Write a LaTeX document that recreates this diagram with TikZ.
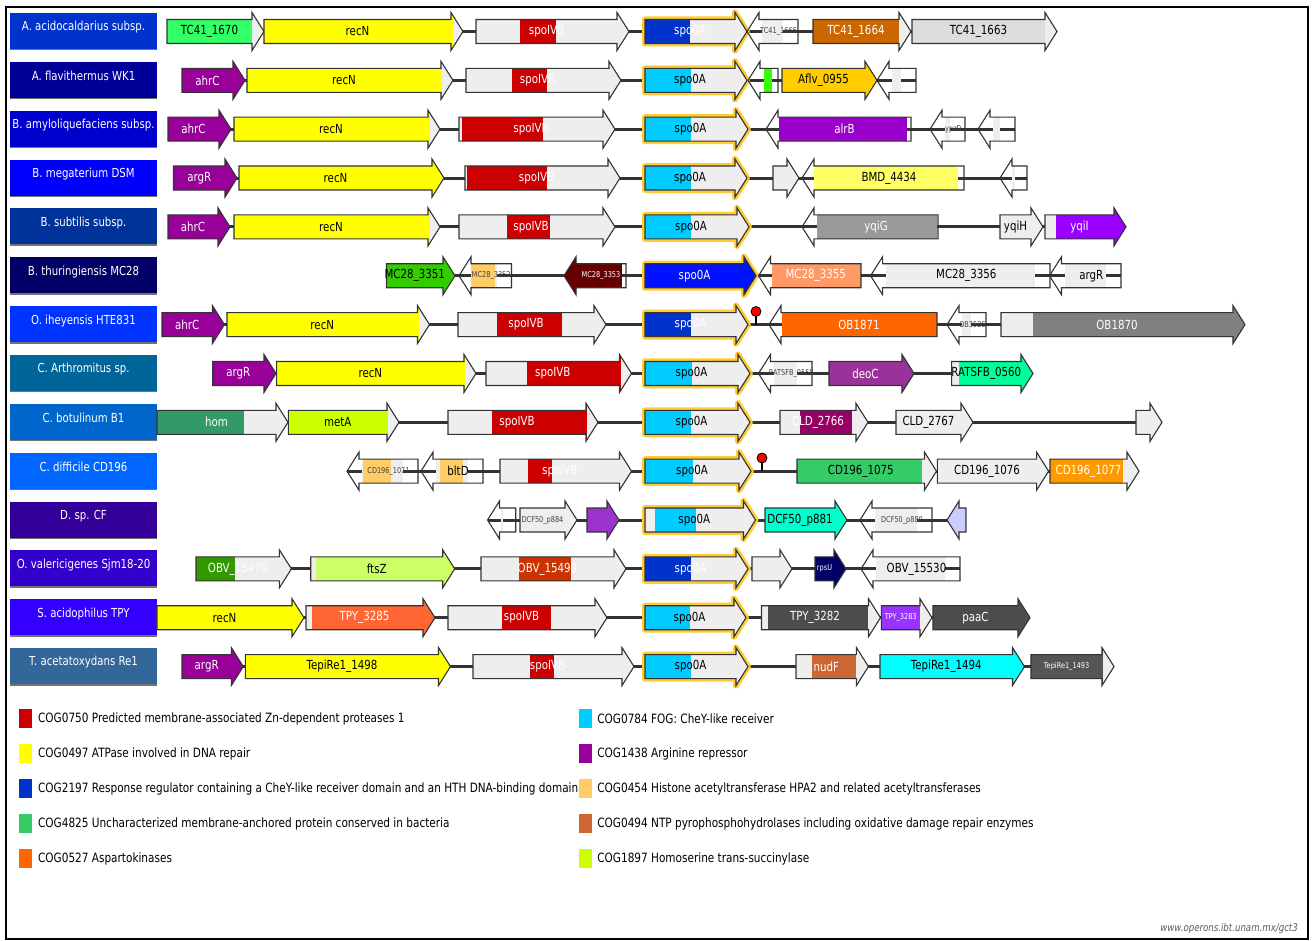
\documentclass[tikz,border=0pt]{standalone}
\usepackage{fontspec}
\setmainfont{DejaVu Sans}[FakeStretch=0.82]
\usetikzlibrary{positioning}
% COG colours (legend)
\definecolor{cogred}{HTML}{CC0000}
\definecolor{cogyellow}{HTML}{FFFF00}
\definecolor{cogblue}{HTML}{0033CC}
\definecolor{coggreen}{HTML}{33CC66}
\definecolor{cogorange}{HTML}{FF6600}
\definecolor{cogcyan}{HTML}{00CCFF}
\definecolor{cogpurple}{HTML}{990099}
\definecolor{coglightor}{HTML}{FFCC66}
\definecolor{cogbrown}{HTML}{CC6633}
\definecolor{coglime}{HTML}{CCFF00}
% other genes
\definecolor{genebase}{HTML}{EEEEEE}
\definecolor{glowyel}{HTML}{FFCC33}
\definecolor{tcgreen}{HTML}{33FF66}
\definecolor{tcbrown}{HTML}{CC6600}
\definecolor{tcgray}{HTML}{DDDDDD}
\definecolor{aflgreen}{HTML}{33FF00}
\definecolor{aflorange}{HTML}{FFCC00}
\definecolor{alrpurple}{HTML}{9900CC}
\definecolor{bmdyellow}{HTML}{FFFF66}
\definecolor{yqigray}{HTML}{999999}
\definecolor{yqipurple}{HTML}{9900FF}
\definecolor{mcgreen}{HTML}{33CC00}
\definecolor{mcdarkred}{HTML}{660000}
\definecolor{spoblue}{HTML}{0011FF}
\definecolor{mcsalmon}{HTML}{FF9966}
\definecolor{obgray}{HTML}{808080}
\definecolor{deopurple}{HTML}{993399}
\definecolor{ratgreen}{HTML}{00FF99}
\definecolor{homgreen}{HTML}{339966}
\definecolor{cldmag}{HTML}{990066}
\definecolor{cdorange}{HTML}{FF9900}
\definecolor{dcfpurple}{HTML}{9933CC}
\definecolor{dcfteal}{HTML}{00FFCC}
\definecolor{lavender}{HTML}{CCCCFF}
\definecolor{obvgreen}{HTML}{339900}
\definecolor{ftsgreen}{HTML}{CCFF66}
\definecolor{obvred}{HTML}{CC3300}
\definecolor{rpsnavy}{HTML}{000066}
\definecolor{tpyorange}{HTML}{FF6633}
\definecolor{tpydark}{HTML}{4D4D4D}
\definecolor{tpypurple}{HTML}{9933FF}
\definecolor{tepicyan}{HTML}{00FFFF}
\definecolor{tepidark}{HTML}{555555}
% species boxes
\definecolor{spa}{HTML}{0033CC}
\definecolor{spb}{HTML}{000099}
\definecolor{spc}{HTML}{0000CC}
\definecolor{spd}{HTML}{0000FF}
\definecolor{spe}{HTML}{003399}
\definecolor{spf}{HTML}{000066}
\definecolor{spg}{HTML}{0033FF}
\definecolor{sph}{HTML}{006699}
\definecolor{spi}{HTML}{0066CC}
\definecolor{spj}{HTML}{0066FF}
\definecolor{spk}{HTML}{330099}
\definecolor{spl}{HTML}{3300CC}
\definecolor{spm}{HTML}{3300FF}
\definecolor{spn}{HTML}{336699}
\newcounter{gn}
% \gene[extra]{y}{tail x}{tip x}{domain from}{domain to}{domain colour}{label}{label style}
\newcommand{\gene}[9][]{%
  \pgfmathsetmacro{\hb}{#4-12*sign(#4-#3)}%
  \path[#1] (#3,#2-12) -- (\hb,#2-12) -- (\hb,#2-19) -- (#4,#2) -- (\hb,#2+19) -- (\hb,#2+12) -- (#3,#2+12) -- cycle;
  \begin{scope}
    \clip (#3,#2-12) -- (\hb,#2-12) -- (\hb,#2-19) -- (#4,#2) -- (\hb,#2+19) -- (\hb,#2+12) -- (#3,#2+12) -- cycle;
    \fill[genebase] (#3-15,#2-20) rectangle (#4+15,#2+20);
    \fill[#7] (#5,#2-20) rectangle (#6,#2+20);
  \end{scope}
  \draw[geneline] (#3,#2-12) -- (\hb,#2-12) -- (\hb,#2-19) -- (#4,#2) -- (\hb,#2+19) -- (\hb,#2+12) -- (#3,#2+12) -- cycle;
  \stepcounter{gn}%
  \node[#9] (g\arabic{gn}) at ({(#3+\hb)/2},#2) {#8};%
}

\begin{document}
\begin{tikzpicture}[x=1pt, y=-1pt]
\tikzset{
    backbone/.style={line width=3pt, draw=black!80},
    geneline/.style={draw=black!80, line width=1.1pt},
    glow/.style={draw=glowyel, line width=6pt, line join=round},
    lblk/.style={font=\fontsize{12.5}{12.5}\selectfont, text=black, inner sep=0pt},
    lwht/.style={font=\fontsize{12.5}{12.5}\selectfont, text=white, inner sep=0pt},
    lsml/.style={font=\fontsize{8}{8}\selectfont, text=black!75, inner sep=0pt},
    lsmw/.style={font=\fontsize{8}{8}\selectfont, text=white, inner sep=0pt},
    spbox/.style={minimum width=147pt, minimum height=37pt, inner sep=0pt,
        path picture={\draw[black!55, line width=2pt] (path picture bounding box.south west) -- (path picture bounding box.south east);}},
    sptext/.style={font=\fontsize{12.4}{12.4}\selectfont, text=white, inner sep=0pt},
    legsq/.style={minimum width=13pt, minimum height=19pt, inner sep=0pt},
    legtxt/.style={font=\fontsize{12.8}{12.8}\selectfont, inner sep=0pt, anchor=west},
    termhead/.style={fill=red, draw=black, line width=0.8pt}
}
\useasboundingbox (0,0) rectangle (1314,941);
\draw[line width=2pt] (6,7) rectangle (1308,939);

% species labels
\node[spbox, fill=spa] (sp1) at (83.5,31.5) {};
\node[sptext] (sp1t) at (83.5,27.5) {A. acidocaldarius subsp.};
\node[spbox, fill=spb] (sp2) at (83.5,80.35) {};
\node[sptext] (sp2t) at (83.5,76.35) {A. flavithermus WK1};
\node[spbox, fill=spc] (sp3) at (83.5,129.2) {};
\node[sptext] (sp3t) at (83.5,125.2) {B. amyloliquefaciens subsp.};
\node[spbox, fill=spd] (sp4) at (83.5,178.05) {};
\node[sptext] (sp4t) at (83.5,174.05) {B. megaterium DSM};
\node[spbox, fill=spe] (sp5) at (83.5,226.9) {};
\node[sptext] (sp5t) at (83.5,222.9) {B. subtilis subsp.};
\node[spbox, fill=spf] (sp6) at (83.5,275.75) {};
\node[sptext] (sp6t) at (83.5,271.75) {B. thuringiensis MC28};
\node[spbox, fill=spg] (sp7) at (83.5,324.6) {};
\node[sptext] (sp7t) at (83.5,320.6) {O. iheyensis HTE831};
\node[spbox, fill=sph] (sp8) at (83.5,373.45) {};
\node[sptext] (sp8t) at (83.5,369.45) {C. Arthromitus sp.};
\node[spbox, fill=spi] (sp9) at (83.5,422.3) {};
\node[sptext] (sp9t) at (83.5,418.3) {C. botulinum B1};
\node[spbox, fill=spj] (sp10) at (83.5,471.15) {};
\node[sptext] (sp10t) at (83.5,467.15) {C. difficile CD196};
\node[spbox, fill=spk] (sp11) at (83.5,520) {};
\node[sptext] (sp11t) at (83.5,516) {D. sp. CF};
\node[spbox, fill=spl] (sp12) at (83.5,568.85) {};
\node[sptext] (sp12t) at (83.5,564.85) {O. valericigenes Sjm18-20};
\node[spbox, fill=spm] (sp13) at (83.5,617.7) {};
\node[sptext] (sp13t) at (83.5,613.7) {S. acidophilus TPY};
\node[spbox, fill=spn] (sp14) at (83.5,666.55) {};
\node[sptext] (sp14t) at (83.5,662.55) {T. acetatoxydans Re1};

% A. acidocaldarius
\coordinate (r1s) at (167,31.5); \coordinate (r1e) at (1057,31.5);
\draw[backbone] (r1s) -- (r1e);
\gene{31.5}{167}{264}{167}{252}{tcgreen}{TC41\_1670}{lblk}
\gene{31.5}{264}{463}{264}{453}{cogyellow}{recN}{lblk}
\gene{31.5}{476}{629}{520}{556}{cogred}{spoIVB}{lwht}
\gene[glow]{31.5}{645}{747}{645}{690}{cogblue}{spo0A}{lwht}
\gene{31.5}{798}{747}{0}{0}{genebase}{TC41\_1666}{lsml}
\gene{31.5}{813}{911}{813}{899}{tcbrown}{TC41\_1664}{lwht}
\gene{31.5}{912}{1057}{912}{1045}{tcgray}{TC41\_1663}{lblk}

% A. flavithermus
\coordinate (r2s) at (182,80.35); \coordinate (r2e) at (916,80.35);
\draw[backbone] (r2s) -- (r2e);
\gene{80.35}{182}{245}{182}{245}{cogpurple}{ahrC}{lwht}
\gene{80.35}{247}{453}{247}{442}{cogyellow}{recN}{lblk}
\gene{80.35}{466}{621}{512}{547}{cogred}{spoIVB}{lwht}
\gene[glow]{80.35}{645}{747}{645}{691}{cogcyan}{spo0A}{lblk}
\gene{80.35}{778}{748}{764}{772}{aflgreen}{}{lblk}
\gene{80.35}{782}{877}{782}{877}{aflorange}{Aflv\_0955}{lblk}
\gene{80.35}{916}{877}{0}{0}{genebase}{}{lblk}

% B. amyloliquefaciens
\coordinate (r3s) at (168,129.2); \coordinate (r3e) at (1015,129.2);
\draw[backbone] (r3s) -- (r3e);
\gene{129.2}{168}{231}{168}{231}{cogpurple}{ahrC}{lwht}
\gene{129.2}{234}{440}{234}{430}{cogyellow}{recN}{lblk}
\gene{129.2}{459}{615}{462}{543}{cogred}{spoIVB}{lwht}
\gene[glow]{129.2}{645}{748}{645}{691}{cogcyan}{spo0A}{lblk}
\gene{129.2}{911}{766}{779}{907}{alrpurple}{alrB}{lwht}
\gene{129.2}{965}{930}{0}{0}{genebase}{ypzD}{lsml}
\gene{129.2}{1015}{978}{0}{0}{genebase}{}{lblk}

% B. megaterium
\coordinate (r4s) at (173.5,178.05); \coordinate (r4e) at (1027,178.05);
\draw[backbone] (r4s) -- (r4e);
\gene{178.05}{173.5}{237}{173.5}{237}{cogpurple}{argR}{lwht}
\gene{178.05}{239}{444}{239}{444}{cogyellow}{recN}{lblk}
\gene{178.05}{465}{620}{467}{547}{cogred}{spoIVB}{lwht}
\gene[glow]{178.05}{645}{747}{645}{691}{cogcyan}{spo0A}{lblk}
\gene{178.05}{773}{799}{0}{0}{genebase}{}{lblk}
\gene{178.05}{964}{802}{814}{958}{bmdyellow}{BMD\_4434}{lblk}
\gene{178.05}{1027}{1000}{0}{0}{genebase}{}{lblk}

% B. subtilis
\coordinate (r5s) at (168,226.9); \coordinate (r5e) at (1126,226.9);
\draw[backbone] (r5s) -- (r5e);
\gene{226.9}{168}{230}{168}{230}{cogpurple}{ahrC}{lwht}
\gene{226.9}{234}{440}{234}{430}{cogyellow}{recN}{lblk}
\gene{226.9}{459}{615}{507}{550}{cogred}{spoIVB}{lwht}
\gene[glow]{226.9}{645}{749}{645}{691}{cogcyan}{spo0A}{lblk}
\gene{226.9}{938}{802}{817}{937}{yqigray}{yqiG}{lwht}
\gene{226.9}{1000}{1043}{0}{0}{genebase}{yqiH}{lblk}
\gene{226.9}{1045}{1126}{1056}{1126}{yqipurple}{yqiI}{lwht}

% B. thuringiensis
\coordinate (r6s) at (386.5,275.75); \coordinate (r6e) at (1121,275.75);
\draw[backbone] (r6s) -- (r6e);
\gene{275.75}{386.5}{455}{386.5}{455}{mcgreen}{MC28\_3351}{lblk}
\gene{275.75}{511.5}{459}{471}{495}{coglightor}{MC28\_3352}{lsml}
\gene{275.75}{626}{564}{564}{622}{mcdarkred}{MC28\_3353}{lsmw}
\gene[glow]{275.75}{645}{756}{645}{756}{spoblue}{spo0A}{lwht}
\gene{275.75}{861}{758.5}{771.5}{861}{mcsalmon}{MC28\_3355}{lwht}
\gene{275.75}{1050}{870.6}{0}{0}{genebase}{MC28\_3356}{lblk}
\gene{275.75}{1121}{1049.5}{0}{0}{genebase}{argR}{lblk}

% O. iheyensis
\coordinate (r7s) at (162,324.6); \coordinate (r7e) at (1245,324.6);
\draw[backbone] (r7s) -- (r7e);
\gene{324.6}{162}{224.4}{162}{224.4}{cogpurple}{ahrC}{lwht}
\gene{324.6}{227}{429.5}{227}{419}{cogyellow}{recN}{lblk}
\gene{324.6}{458}{606}{497}{562}{cogred}{spoIVB}{lwht}
\gene[glow]{324.6}{645}{748}{645}{691}{cogblue}{spo0A}{lwht}
\gene{324.6}{937}{769}{782}{937}{cogorange}{OB1871}{lwht}
\gene{324.6}{986}{947}{0}{0}{genebase}{OB3525}{lsml}
\gene{324.6}{1001}{1245}{1033}{1245}{obgray}{OB1870}{lwht}
\coordinate (t7) at (756,324.6);
\draw[line width=2pt] (t7) -- ++(0,-11);
\draw[termhead] (756,311.5) circle (5);

% C. Arthromitus
\coordinate (r8s) at (212.6,373.45); \coordinate (r8e) at (1033,373.45);
\draw[backbone] (r8s) -- (r8e);
\gene{373.45}{212.6}{276}{212.6}{276}{cogpurple}{argR}{lwht}
\gene{373.45}{276.6}{476}{276.6}{465}{cogyellow}{recN}{lblk}
\gene{373.45}{486}{631.5}{527}{621}{cogred}{spoIVB}{lwht}
\gene[glow]{373.45}{645}{750}{645}{692}{cogcyan}{spo0A}{lblk}
\gene{373.45}{812}{758.5}{0}{0}{genebase}{RATSFB\_0558}{lsml}
\gene{373.45}{829}{914}{829}{914}{deopurple}{deoC}{lwht}
\gene{373.45}{951.6}{1033}{959}{1033}{ratgreen}{RATSFB\_0560}{lblk}

% C. botulinum
\coordinate (r9s) at (157,422.3); \coordinate (r9e) at (1162,422.3);
\draw[backbone] (r9s) -- (r9e);
\gene{422.3}{157}{288}{157}{244}{homgreen}{hom}{lwht}
\gene{422.3}{288.4}{399}{288.4}{388}{coglime}{metA}{lblk}
\gene{422.3}{448}{598}{492}{587}{cogred}{spoIVB}{lwht}
\gene[glow]{422.3}{645}{750}{645}{691}{cogcyan}{spo0A}{lblk}
\gene{422.3}{780}{868}{800}{852}{cldmag}{CLD\_2766}{lwht}
\gene{422.3}{896}{973}{0}{0}{genebase}{CLD\_2767}{lblk}
\gene{422.3}{1136}{1162}{0}{0}{genebase}{}{lblk}

% C. difficile
\coordinate (r10s) at (347,471.15); \coordinate (r10e) at (1139,471.15);
\draw[backbone] (r10s) -- (r10e);
\gene{471.15}{418}{347}{363}{391}{coglightor}{CD196\_1071}{lsml}
\gene{471.15}{483}{421}{440}{463}{coglightor}{bltD}{lblk}
\gene{471.15}{500}{631.5}{528}{551.5}{cogred}{spoIVB}{lwht}
\gene[glow]{471.15}{645}{751}{645}{693}{cogcyan}{spo0A}{lblk}
\gene{471.15}{797}{936.5}{797}{922}{coggreen}{CD196\_1075}{lblk}
\gene{471.15}{937.4}{1048.6}{0}{0}{genebase}{CD196\_1076}{lblk}
\gene{471.15}{1050}{1139}{1050}{1123}{cdorange}{CD196\_1077}{lwht}
\coordinate (t10) at (762,471.15);
\draw[line width=2pt] (t10) -- ++(0,-11);
\draw[termhead] (762,458) circle (5);

% D. sp. CF
\coordinate (r11s) at (487.5,520); \coordinate (r11e) at (966,520);
\draw[backbone] (r11s) -- (r11e);
\gene{520}{515.7}{487.5}{0}{0}{genebase}{}{lblk}
\gene{520}{520}{577}{0}{0}{genebase}{DCF50\_p884}{lsml}
\gene{520}{587}{619}{587}{619}{dcfpurple}{}{lblk}
\gene[glow]{520}{645}{755.5}{655}{696}{cogcyan}{spo0A}{lblk}
\gene{520}{765}{847}{765}{847}{dcfteal}{DCF50\_p881}{lblk}
\gene{520}{932}{860}{0}{0}{genebase}{DCF50\_p880}{lsml}
\gene{520}{966}{947}{947}{966}{lavender}{}{lblk}

% O. valericigenes
\coordinate (r12s) at (196,568.85); \coordinate (r12e) at (960,568.85);
\draw[backbone] (r12s) -- (r12e);
\gene{568.85}{196}{291.4}{196}{235}{obvgreen}{OBV\_15470}{lwht}
\gene{568.85}{310.7}{454.7}{316}{455}{ftsgreen}{ftsZ}{lblk}
\gene{568.85}{481}{626}{519}{570.5}{obvred}{OBV\_15490}{lwht}
\gene[glow]{568.85}{645}{748}{645}{691}{cogblue}{spo0A}{lwht}
\gene{568.85}{752}{792}{0}{0}{genebase}{}{lblk}
\gene{568.85}{815}{846}{815}{846}{rpsnavy}{rpsU}{lsmw}
\gene{568.85}{960}{861}{0}{0}{genebase}{OBV\_15530}{lblk}

% S. acidophilus
\coordinate (r13s) at (157,617.7); \coordinate (r13e) at (1030,617.7);
\draw[backbone] (r13s) -- (r13e);
\gene{617.7}{157}{304}{157}{304}{cogyellow}{recN}{lblk}
\gene{617.7}{306}{435}{311.5}{435}{tpyorange}{TPY\_3285}{lwht}
\gene{617.7}{448}{607}{502}{551}{cogred}{spoIVB}{lwht}
\gene[glow]{617.7}{645}{746}{645}{690}{cogcyan}{spo0A}{lblk}
\gene{617.7}{761.5}{880.5}{768}{868}{tpydark}{TPY\_3282}{lwht}
\gene{617.7}{881.4}{932}{881.4}{920}{tpypurple}{TPY\_3283}{lsmw}
\gene{617.7}{933}{1030}{933}{1030}{tpydark}{paaC}{lwht}

% T. acetatoxydans
\coordinate (r14s) at (182,666.55); \coordinate (r14e) at (1114,666.55);
\draw[backbone] (r14s) -- (r14e);
\gene{666.55}{182}{243.3}{182}{243.3}{cogpurple}{argR}{lwht}
\gene{666.55}{245.4}{450.5}{245.4}{450.5}{cogyellow}{TepiRe1\_1498}{lblk}
\gene{666.55}{473}{634}{530}{554}{cogred}{spoIVB}{lwht}
\gene[glow]{666.55}{645}{748}{645}{691}{cogcyan}{spo0A}{lblk}
\gene{666.55}{796}{868.4}{812}{856}{cogbrown}{nudF}{lwht}
\gene{666.55}{880}{1024.5}{880}{1024.5}{tepicyan}{TepiRe1\_1494}{lblk}
\gene{666.55}{1031}{1114}{1031}{1103}{tepidark}{TepiRe1\_1493}{lsmw}

% legend
\node[legsq, fill=cogred] (leg1) at (25.75,718.5) {};
\node[legtxt, right=5.5pt of leg1] (leg1t) {COG0750 Predicted membrane-associated Zn-dependent proteases 1};
\node[legsq, fill=cogyellow] (leg2) at (25.75,753.5) {};
\node[legtxt, right=5.5pt of leg2] (leg2t) {COG0497 ATPase involved in DNA repair};
\node[legsq, fill=cogblue] (leg3) at (25.75,788.5) {};
\node[legtxt, right=5.5pt of leg3] (leg3t) {COG2197 Response regulator containing a CheY-like receiver domain and an HTH DNA-binding domain};
\node[legsq, fill=coggreen] (leg4) at (25.75,823.5) {};
\node[legtxt, right=5.5pt of leg4] (leg4t) {COG4825 Uncharacterized membrane-anchored protein conserved in bacteria};
\node[legsq, fill=cogorange] (leg5) at (25.75,858.5) {};
\node[legtxt, right=5.5pt of leg5] (leg5t) {COG0527 Aspartokinases};
\node[legsq, fill=cogcyan] (leg6) at (585,718.5) {};
\node[legtxt, right=5.5pt of leg6] (leg6t) {COG0784 FOG: CheY-like receiver};
\node[legsq, fill=cogpurple] (leg7) at (585,753.5) {};
\node[legtxt, right=5.5pt of leg7] (leg7t) {COG1438 Arginine repressor};
\node[legsq, fill=coglightor] (leg8) at (585,788.5) {};
\node[legtxt, right=5.5pt of leg8] (leg8t) {COG0454 Histone acetyltransferase HPA2 and related acetyltransferases};
\node[legsq, fill=cogbrown] (leg9) at (585,823.5) {};
\node[legtxt, right=5.5pt of leg9] (leg9t) {COG0494 NTP pyrophosphohydrolases including oxidative damage repair enzymes};
\node[legsq, fill=coglime] (leg10) at (585,858.5) {};
\node[legtxt, right=5.5pt of leg10] (leg10t) {COG1897 Homoserine trans-succinylase};

\node[font=\fontsize{10.5}{10.5}\selectfont\itshape, text=black!65, anchor=east, inner sep=0pt] (url) at (1298,929) {www.operons.ibt.unam.mx/gct3};
\end{tikzpicture}
\end{document}
